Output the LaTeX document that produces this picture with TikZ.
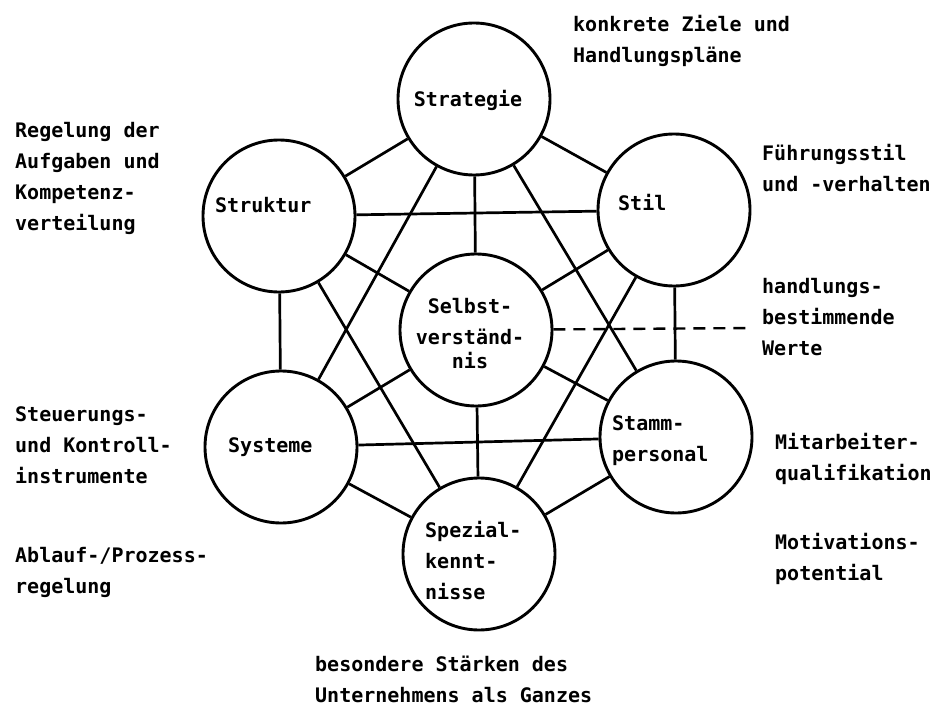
\documentclass[tikz,border=0pt]{standalone}
\usepackage{fontspec}
\newfontfamily\plotfont{DejaVu Sans Mono}
\begin{document}
\begin{tikzpicture}[x=1pt,y=-1pt,
  ring/.style={circle, draw, fill=white, line width=2.9pt, minimum size=152pt, inner sep=0pt},
  link/.style={line width=2.7pt},
  txt/.style={font=\plotfont\bfseries\fontsize{20}{31}\selectfont, inner sep=0pt, align=left, anchor=west},
  ctxt/.style={font=\plotfont\bfseries\fontsize{20}{31}\selectfont, inner sep=0pt, align=center}]
\useasboundingbox (0,0) rectangle (940,706);

% circles: one at the hub, six around it
\node[ring] (selbst)    at (476,330) {};
\node[ring] (strategie) at (474,99)  {};
\node[ring] (struktur)  at (279,216) {};
\node[ring] (stil)      at (674,210) {};
\node[ring] (systeme)   at (281,447) {};
\node[ring] (stamm)     at (676,437) {};
\node[ring] (spezial)   at (479,554) {};

% free end of the dashed pointer
\coordinate (werte) at (753,328);

% labels inside the circles
\node[ctxt] (tStrategie) at (468,100) {Strategie};
\node[txt]  (tStruktur)  at (215,205) {Struktur};
\node[txt]  (tStil)      at (618,203) {Stil};
\node[ctxt] (tSelbst)    at (470,334) {Selbst-\\verständ-\\[-7pt]nis};
\node[txt]  (tSysteme)   at (228,447) {Systeme};
\node[txt]  (tStamm)     at (612,441) {Stamm-\\personal};
\node[txt]  (tSpezial)   at (425,561) {Spezial-\\kennt-\\nisse};

% explanations around the figure
\node[txt] (eStrategie) at (573,41)  {konkrete Ziele und\\Handlungspläne};
\node[txt] (eStruktur)  at (15,178)  {Regelung der\\Aufgaben und\\Kompetenz-\\verteilung};
\node[txt] (eStil)      at (762,168) {Führungsstil\\und -verhalten};
\node[txt] (eSelbst)    at (762,317) {handlungs-\\bestimmende\\Werte};
\node[txt] (eSysteme)   at (15,445)  {Steuerungs-\\und Kontroll-\\instrumente};
\node[txt] (eAblauf)    at (15,572)  {Ablauf-/Prozess-\\regelung};
\node[txt] (eStamm)     at (775,459) {Mitarbeiter-\\qualifikation};
\node[txt] (eMotiv)     at (775,559) {Motivations-\\potential};
\node[txt] (eSpezial)   at (315,679) {besondere Stärken des\\Unternehmens als Ganzes};

% network of links between the circles
\draw[link] (selbst) -- (strategie);
\draw[link] (selbst) -- (struktur);
\draw[link] (selbst) -- (stil);
\draw[link] (selbst) -- (systeme);
\draw[link] (selbst) -- (stamm);
\draw[link] (selbst) -- (spezial);
\draw[link] (strategie) -- (struktur);
\draw[link] (strategie) -- (stil);
\draw[link] (struktur) -- (systeme);
\draw[link] (stil) -- (stamm);
\draw[link] (systeme) -- (spezial);
\draw[link] (stamm) -- (spezial);
\draw[link] (struktur) -- (stil);
\draw[link] (systeme) -- (stamm);
\draw[link] (strategie) -- (systeme);
\draw[link] (strategie) -- (stamm);
\draw[link] (struktur) -- (spezial);
\draw[link] (stil) -- (spezial);
\draw[link, dashed, dash pattern=on 12pt off 8pt, line width=2.4pt] (selbst) -- (werte);
\end{tikzpicture}
\end{document}
